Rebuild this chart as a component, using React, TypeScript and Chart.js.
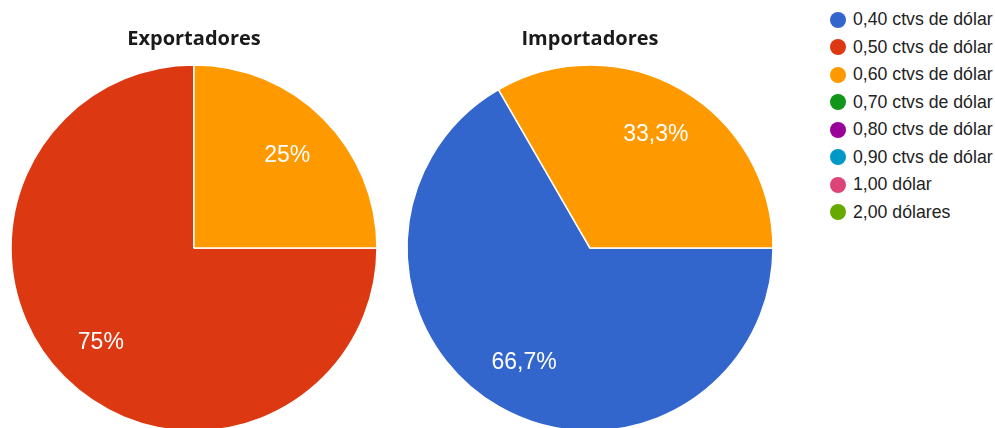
import React, { useEffect, useRef } from "react";
import { Chart, registerables } from "chart.js";

Chart.register(...registerables);

const categories = [
  "0,40 ctvs de dólar",
  "0,50 ctvs de dólar",
  "0,60 ctvs de dólar",
  "0,70 ctvs de dólar",
  "0,80 ctvs de dólar",
  "0,90 ctvs de dólar",
  "1,00 dólar",
  "2,00 dólares",
];
const colors = ["#3366cc", "#dc3912", "#ff9900", "#109618", "#990099", "#0099c6", "#dd4477", "#66aa00"];

const exportTitle = "Exportadores";
const exportValues = [0, 3, 1, 0, 0, 0, 0, 0];
const importTitle = "Importadores";
const importValues = [2, 0, 1, 0, 0, 0, 0, 0];

function fmtPct(p: number): string {
  const r = Math.round(p * 10) / 10;
  const s = Number.isInteger(r) ? String(r) : r.toFixed(1);
  return s.replace(".", ",") + "%";
}

const pctLabels = {
  id: "pctLabels",
  afterDatasetsDraw(chart: any) {
    const ctx = chart.ctx;
    const meta = chart.getDatasetMeta(0);
    const data: number[] = chart.data.datasets[0].data;
    const total = data.reduce((a, b) => a + b, 0);
    meta.data.forEach((arc: any, i: number) => {
      const v = data[i];
      if (!v) return;
      const { x, y, startAngle, endAngle, outerRadius } = arc.getProps(
        ["x", "y", "startAngle", "endAngle", "outerRadius"],
        true
      );
      const mid = (startAngle + endAngle) / 2;
      const r = outerRadius * 0.72;
      ctx.save();
      ctx.fillStyle = "#ffffff";
      ctx.font = '23px "Liberation Sans", Arial, sans-serif';
      ctx.textAlign = "center";
      ctx.textBaseline = "middle";
      ctx.fillText(fmtPct((v / total) * 100), x + Math.cos(mid) * r, y + Math.sin(mid) * r + 1);
      ctx.restore();
    });
  },
};

function PieChart({ title, values }: { title: string; values: number[] }) {
  const ref = useRef<HTMLCanvasElement>(null);
  useEffect(() => {
    if (!ref.current) return;
    const chart = new Chart(ref.current, {
      type: "pie",
      data: {
        labels: categories,
        datasets: [
          {
            data: values,
            backgroundColor: colors,
            borderColor: "#ffffff",
            borderWidth: 1.5,
          },
        ],
      },
      options: {
        animation: false,
        responsive: false,
        rotation: 90,
        radius: 183,
        layout: { padding: 0 },
        plugins: {
          legend: { display: false },
          tooltip: { enabled: false },
          title: {
            display: true,
            text: title,
            color: "#1a1a1a",
            font: { family: '"Open Sans", sans-serif', size: 20, weight: "bold", lineHeight: 1.2 },
            padding: { top: 27, bottom: 0 },
          },
        },
      },
      plugins: [pctLabels],
    });
    return () => chart.destroy();
  }, [title, values]);
  return <canvas ref={ref} width={388} height={445} />;
}

function Legend() {
  return (
    <div style={{ position: "absolute", left: 830, top: 5.5 }}>
      {categories.map((c, i) => (
        <div
          key={c}
          style={{
            position: "absolute",
            left: 0,
            top: i * 27.5,
            height: 28,
            display: "flex",
            alignItems: "center",
            whiteSpace: "nowrap",
          }}
        >
          <span
            style={{
              display: "inline-block",
              width: 16,
              height: 16,
              borderRadius: 8,
              background: colors[i],
            }}
          />
          <span
            style={{
              marginLeft: 7,
              fontFamily: '"Liberation Sans", Arial, sans-serif',
              fontSize: 17.7,
              color: "#222222",
            }}
          >
            {c}
          </span>
        </div>
      ))}
    </div>
  );
}

export default function App() {
  return (
    <div
      style={{
        position: "fixed",
        left: 0,
        top: 0,
        width: 995,
        height: 428,
        overflow: "hidden",
        background: "#ffffff",
      }}
    >
      <div style={{ position: "absolute", left: 0, top: 0 }}>
        <PieChart title={exportTitle} values={exportValues} />
      </div>
      <div style={{ position: "absolute", left: 396, top: 0 }}>
        <PieChart title={importTitle} values={importValues} />
      </div>
      <Legend />
    </div>
  );
}
